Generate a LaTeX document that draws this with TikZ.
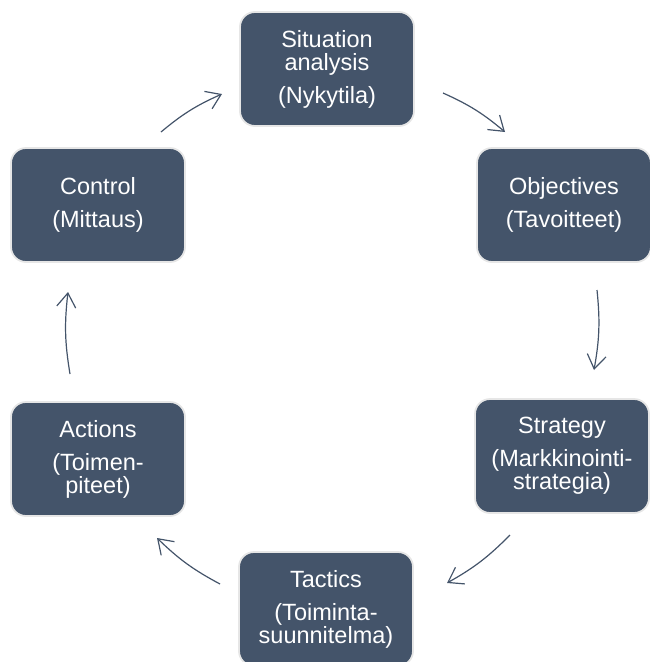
\documentclass[tikz,border=0pt]{standalone}
\usepackage{fontspec}
\setmainfont{Liberation Sans}
\usetikzlibrary{arrows.meta}
\definecolor{slate}{HTML}{44546A}
\definecolor{boxedge}{HTML}{E6E6E6}
\tikzset{
  stage/.style={rectangle, rounded corners=15pt, fill=slate, draw=boxedge, line width=1.8pt,
    minimum width=174pt, minimum height=114pt, inner sep=0pt, align=center, text=white,
    font=\fontsize{23.5}{23}\selectfont},
  flow/.style={draw=slate, line width=1.2pt, bend left=8,
    -{Straight Barb[length=14pt, width=19pt, line width=1.2pt]}}
}
\newcommand{\pgap}{\\[10pt]}
\begin{document}
\begin{tikzpicture}[x=1pt, y=-1pt]
\useasboundingbox (0,0) rectangle (649,662);
\node[stage] (sit) at (327,69) {Situation\\analysis\pgap(Nykytila)};
\node[stage] (obj) at (564,205) {Objectives\pgap(Tavoitteet)};
\node[stage] (str) at (562,456) {Strategy\pgap(Markkinointi-\\strategia)};
\node[stage] (tac) at (326,609) {Tactics\pgap(Toiminta-\\suunnitelma)};
\node[stage] (act) at (98,459) {Actions\pgap(Toimen-\\piteet)};
\node[stage] (ctl) at (98,205) {Control\pgap(Mittaus)};
\coordinate (a1s) at (161,132); \coordinate (a1e) at (222,94);
\coordinate (a2s) at (443,93);  \coordinate (a2e) at (505,132);
\coordinate (a3s) at (597,290); \coordinate (a3e) at (594,370);
\coordinate (a4s) at (510,535); \coordinate (a4e) at (447,583);
\coordinate (a5s) at (220,584); \coordinate (a5e) at (157,538);
\coordinate (a6s) at (70,374);  \coordinate (a6e) at (68,292);
\draw[flow] (a1s) to (a1e);
\draw[flow] (a2s) to (a2e);
\draw[flow] (a3s) to (a3e);
\draw[flow] (a4s) to (a4e);
\draw[flow] (a5s) to (a5e);
\draw[flow] (a6s) to (a6e);
\end{tikzpicture}
\end{document}
